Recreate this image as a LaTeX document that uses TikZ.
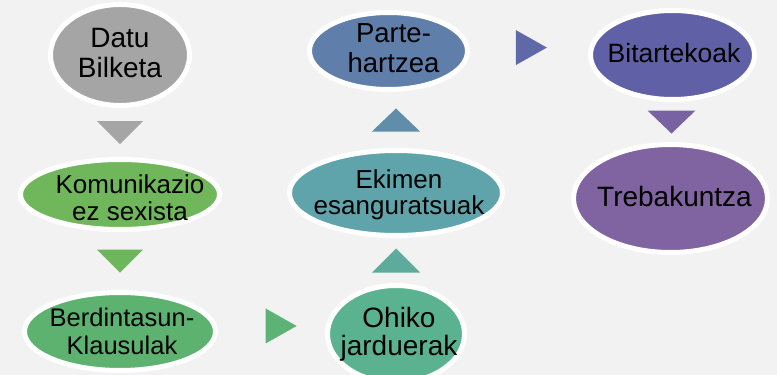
\documentclass[tikz,border=0pt]{standalone}
\usepackage{fontspec}
\setmainfont{Liberation Sans}
\usepackage{tikz}
\usetikzlibrary{shapes.geometric}
\usetikzlibrary{calc}
\definecolor{hintergrund}{HTML}{F2F2F2}
\definecolor{grau}{HTML}{A5A5A5}
\definecolor{gruenA}{HTML}{70B65A}
\definecolor{gruenB}{HTML}{5DB270}
\definecolor{gruenC}{HTML}{5BB290}
\definecolor{tuerkis}{HTML}{5EA4AA}
\definecolor{blauA}{HTML}{5F7EAA}
\definecolor{blauB}{HTML}{5F60A5}
\definecolor{lila}{HTML}{8063A1}
\newcommand*{\pfeilDreieck}[5]{% #1 = point, #2 = angle, #3 = colour, #4 = depth, #5 = half width
   \fill[#3, shift={(#1)}, rotate=#2] (#4/2,0) -- (-#4/2,#5) -- (-#4/2,-#5) -- cycle;
}
\begin{document}
\begin{tikzpicture}[
		x=1pt,
		y=-1pt,
		blase/.style={ellipse, draw=white, line width=5pt, inner sep=0pt},
		schrift/.style={align=center, inner sep=0pt, font=\fontsize{26}{28}\selectfont}
	]
		\useasboundingbox (0,0) rectangle (777,375);
		\clip (0,0) rectangle (777,375);
		\fill[hintergrund] (0,0) rectangle (777,375);

		\node[blase, fill=grau, minimum width=139pt, minimum height=101pt] (datu) at (120,55) {};
		\node[blase, fill=gruenA, minimum width=199pt, minimum height=70pt] (komu) at (120,194.5) {};
		\node[blase, fill=gruenB, minimum width=191pt, minimum height=78pt] (berd) at (120,331.5) {};
		\node[blase, fill=gruenC, minimum width=137pt, minimum height=97pt] (ohiko) at (396,334) {};
		\node[blase, fill=tuerkis, minimum width=213pt, minimum height=85pt] (ekimen) at (396,193) {};
		\node[blase, fill=blauA, minimum width=158pt, minimum height=77pt] (parte) at (388.5,51) {};
		\node[blase, fill=blauB, minimum width=164pt, minimum height=89pt] (bitar) at (672.5,55) {};
		\node[blase, fill=lila, minimum width=194pt, minimum height=108pt] (treb) at (670.5,198.5) {};

		\node[schrift, font=\fontsize{28}{30}\selectfont] (datu-t) at ($(datu)+(0,-2)$) {Datu\\Bilketa};
		\node[schrift, font=\fontsize{26}{27}\selectfont] (komu-t) at ($(komu)+(10,3)$) {Komunikazio\\ez sexista};
		\node[schrift, font=\fontsize{25.5}{28}\selectfont] (berd-t) at ($(berd)+(2,0)$) {Berdintasun-\\Klausulak};
		\node[schrift, font=\fontsize{28}{28}\selectfont] (ohiko-t) at ($(ohiko)+(3,0)$) {Ohiko\\jarduerak};
		\node[schrift, font=\fontsize{26}{26}\selectfont] (ekimen-t) at ($(ekimen)+(3,1.5)$) {Ekimen\\esanguratsuak};
		\node[schrift, font=\fontsize{27.5}{30}\selectfont] (parte-t) at ($(parte)+(5,-3)$) {Parte-\\hartzea};
		\node[schrift, font=\fontsize{26.5}{28}\selectfont] (bitar-t) at ($(bitar)+(1.5,-1.5)$) {Bitartekoak};
		\node[schrift, font=\fontsize{28}{28}\selectfont] (treb-t) at ($(treb)+(4,-2.5)$) {Trebakuntza};

		\coordinate (p1) at ($(datu.south)!0.5!(komu.north)$);
		\coordinate (p2) at ($(komu.south)!0.5!(berd.north)$);
		\coordinate (p3) at ($(berd.east)!0.59!(ohiko.west)+(0,-7)$);
		\coordinate (p4) at ($(ohiko.north)!0.5!(ekimen.south)$);
		\coordinate (p5) at ($(ekimen.north)!0.5!(ekimen.north|-parte.south)$);
		\coordinate (p6) at ($(parte.east)!0.52!(bitar.west)+(0,-5.5)$);
		\coordinate (p7) at ($(bitar.south)!0.5!(treb.north)$);

		\pfeilDreieck{p1}{-90}{grau}{23}{23}
		\pfeilDreieck{p2}{-90}{gruenA!90!gruenB}{23}{23}
		\pfeilDreieck{p3}{0}{gruenB!80!gruenC}{31}{17.5}
		\pfeilDreieck{p4}{90}{gruenC!50!tuerkis}{24}{24}
		\pfeilDreieck{p5}{90}{tuerkis!40!blauA}{23}{24}
		\pfeilDreieck{p6}{0}{blauA!30!blauB}{31}{17.5}
		\pfeilDreieck{p7}{-90}{blauB!25!lila}{23}{24}
	\end{tikzpicture}
\end{document}
